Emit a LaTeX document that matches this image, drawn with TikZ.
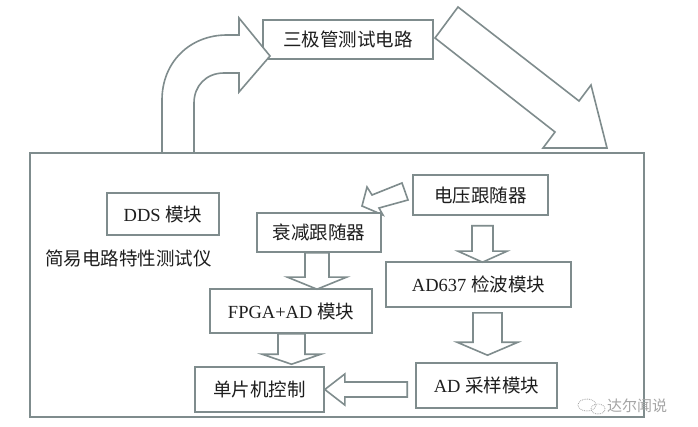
\documentclass[tikz,border=0pt]{standalone}
\usepackage{fontspec}
\setmainfont{Liberation Serif}
\newfontfamily\cjk{Noto Sans CJK SC}
\usetikzlibrary{calc}
\definecolor{ln}{RGB}{127,140,141}
\definecolor{tx}{RGB}{30,30,30}
\definecolor{wm}{RGB}{165,165,165}
\newcommand\dnblk[5]{\draw[blk] ($(#1)+(-#3,0)$) -- ($(#2)+(-#3,-#5)$) -- ($(#2)+(-#4,-#5)$) -- (#2) -- ($(#2)+(#4,-#5)$) -- ($(#2)+(#3,-#5)$) -- ($(#1)+(#3,0)$) -- cycle;}
\newcommand\lfblk[5]{\draw[blk] ($(#1)+(0,-#3)$) -- ($(#2)+(#5,-#3)$) -- ($(#2)+(#5,-#4)$) -- (#2) -- ($(#2)+(#5,#4)$) -- ($(#2)+(#5,#3)$) -- ($(#1)+(0,#3)$) -- cycle;}
\begin{document}
\begin{tikzpicture}[x=1pt,y=-1pt,
  box/.style={draw=ln,line width=1.6pt,fill=white,text=tx,inner sep=0pt,font=\fontsize{18.5}{20}\selectfont},
  blk/.style={draw=ln,line width=1.6pt,fill=white,line join=miter},
  lbl/.style={text=tx,font=\fontsize{18.5}{20}\selectfont\cjk,inner sep=0pt}]
\useasboundingbox (0,0) rectangle (698,427);
\fill[white] (0,0) rectangle (698,427);
% outer box
\node[box,minimum width=614pt,minimum height=264pt] (main) at (337,285) {};
% top node
\node[box,minimum width=170pt,minimum height=39pt] (top) at (348,39.5) {\cjk 三极管测试电路};
% curved arrow into top node
\draw[blk] (162,153) -- (162,100) .. controls (162,62) and (190,35) .. (227,35) -- (239,35) -- (239,18) -- (270,56) -- (239,92) -- (239,73) -- (224,73) .. controls (206,73) and (194,86) .. (194,103) -- (194,153) -- cycle;
% big arrow out of top node
\draw[blk] (458,7) -- (579,101) -- (591,85) -- (607,148) -- (543,148) -- (555,132) -- (435,38) -- cycle;
% label
\node[lbl,anchor=west] (title) at (45,258) {简易电路特性测试仪};
% diagonal arrow (behind atten box)
\draw[blk] (402,183) -- (372,195) -- (367,187) -- (362,206) -- (383,215) -- (379,208) -- (408,200) -- cycle;
% inner nodes
\node[box,minimum width=112pt,minimum height=42pt] (dds) at (163,214) {DDS {\cjk 模块}};
\node[box,minimum width=135pt,minimum height=40pt] (volt) at (480.5,195) {\cjk 电压跟随器};
\node[box,minimum width=124pt,minimum height=39pt] (atten) at (319,232.5) {\cjk 衰减跟随器};
\node[box,minimum width=185pt,minimum height=45pt] (ad637) at (478.5,284.5) {AD637 {\cjk 检波模块}};
\node[box,minimum width=162pt,minimum height=44pt] (fpga) at (291,311) {FPGA+AD {\cjk 模块}};
\node[box,minimum width=129pt,minimum height=45pt] (mcu) at (259.5,389.5) {\cjk 单片机控制};
\node[box,minimum width=141pt,minimum height=45pt] (adsamp) at (486.5,385.5) {AD {\cjk 采样模块}};
% block connectors
\dnblk{$(atten.south)+(-2,0)$}{$(fpga.north)+(26,1)$}{12}{29.5}{12}
\dnblk{$(volt.south)+(2,10)$}{$(ad637.north)+(4,1)$}{10.5}{24.5}{11}
\dnblk{$(fpga.south)+(0.5,0)$}{$(mcu.north)+(32,-2)$}{13.5}{29.5}{10}
\dnblk{$(ad637.south)+(9,5)$}{$(adsamp.north)+(1,-7)$}{14.5}{30.5}{13}
\lfblk{$(adsamp.west)+(-8,4)$}{mcu.east}{7.5}{15.5}{20}
% watermark
\draw[wm,line width=0.8pt,densely dotted] (587,405) ellipse (9pt and 6pt);
\draw[wm,line width=0.8pt,densely dotted] (598,409) ellipse (7pt and 5pt);
\node[text=wm,font=\fontsize{15}{16}\selectfont\cjk,inner sep=0pt,anchor=west] (wmtext) at (607,406) {达尔闻说};
\end{tikzpicture}
\end{document}
